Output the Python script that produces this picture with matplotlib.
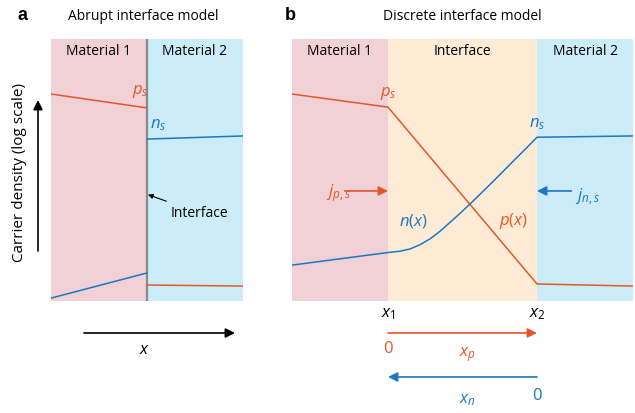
import matplotlib.pyplot as plt

plt.rcParams['font.family'] = 'Open Sans'
plt.rcParams['mathtext.fontset'] = 'custom'
plt.rcParams['mathtext.it'] = 'Open Sans:italic'
plt.rcParams['mathtext.rm'] = 'Open Sans'
plt.rcParams['mathtext.bf'] = 'Open Sans:bold'

ORANGE = '#e4572a'
BLUE = '#1b79c1'
PINK = '#f1d1d6'
SKY = '#cbecf8'
BEIGE = '#fdebd6'

# --- panel a: abrupt interface (x: material 1 = 0..1, material 2 = 1..2; y = log density)
a_bounds = [0, 1, 2]
a_p_m1_x = [0, 1]
a_p_m1_y = [7.90, 7.37]
a_p_m2_x = [1, 2]
a_p_m2_y = [0.61, 0.57]
a_n_m1_x = [0, 1]
a_n_m1_y = [0.11, 1.07]
a_n_m2_x = [1, 2]
a_n_m2_y = [6.18, 6.30]

# --- panel b: discrete interface (x1 = 0, x2 = 1)
b_bounds = [-0.644, 0, 1, 1.644]
b_p_x = [-0.644, 0, 1, 1.644]
b_p_y = [7.90, 7.40, 0.65, 0.57]
b_n_x = [-0.644, 0, 0.081, 0.148, 0.215, 0.282, 0.349, 0.416, 0.483, 0.550,
         0.617, 0.685, 0.752, 0.841, 0.931, 1.0, 1.644]
b_n_y = [1.37, 1.85, 1.90, 1.985, 2.15, 2.37, 2.66, 3.00, 3.34, 3.70,
         4.07, 4.45, 4.83, 5.34, 5.85, 6.25, 6.30]
b_region_names = ['Material 1', 'Interface', 'Material 2']

YMAX = 10.0
W, H = 635, 414

fig = plt.figure(figsize=(W / 100, H / 100), dpi=100)


def add_panel(left_px, right_px, xlim):
    ax = fig.add_axes([left_px / W, (H - 302) / H, (right_px - left_px) / W, 262 / H])
    ax.set_xlim(*xlim)
    ax.set_ylim(0, YMAX)
    ax.axis('off')
    return ax


lw = 1.1
fs = 10

# panel a
ax_a = add_panel(51, 243, (a_bounds[0], a_bounds[-1]))
ax_a.axvspan(a_bounds[0], a_bounds[1], color=PINK, lw=0)
ax_a.axvspan(a_bounds[1], a_bounds[2], color=SKY, lw=0)
ax_a.axvline(a_bounds[1], color='#8a8a8a', lw=1.6)
ax_a.plot(a_p_m1_x, a_p_m1_y, color=ORANGE, lw=lw)
ax_a.plot(a_p_m2_x, a_p_m2_y, color=ORANGE, lw=lw)
ax_a.plot(a_n_m1_x, a_n_m1_y, color=BLUE, lw=lw)
ax_a.plot(a_n_m2_x, a_n_m2_y, color=BLUE, lw=lw)
ax_a.text(0.5, 9.55, 'Material 1', ha='center', va='center', fontsize=fs)
ax_a.text(1.5, 9.55, 'Material 2', ha='center', va='center', fontsize=fs)
ax_a.text(0.93, 8.05, r'$p_s$', color=ORANGE, ha='center', va='center', fontsize=12)
ax_a.text(1.12, 6.75, r'$n_s$', color=BLUE, ha='center', va='center', fontsize=12)
ax_a.annotate('Interface', xy=(1.01, 4.06), xytext=(1.25, 3.38), fontsize=fs,
              ha='left', va='center',
              arrowprops=dict(arrowstyle='-|>', color='black', lw=0.8,
                              mutation_scale=7, shrinkA=2, shrinkB=0,
                              relpos=(0.1, 1.0)))

# panel b
ax_b = add_panel(292, 633, (b_bounds[0], b_bounds[-1]))
for (x0, x1), c in zip(zip(b_bounds[:-1], b_bounds[1:]), [PINK, BEIGE, SKY]):
    ax_b.axvspan(x0, x1, color=c, lw=0)
for (x0, x1), name in zip(zip(b_bounds[:-1], b_bounds[1:]), b_region_names):
    ax_b.text((x0 + x1) / 2, 9.55, name, ha='center', va='center', fontsize=fs)
ax_b.plot(b_p_x, b_p_y, color=ORANGE, lw=lw)
ax_b.plot(b_n_x, b_n_y, color=BLUE, lw=lw, solid_joinstyle='round')
ax_b.text(0.0, 7.95, r'$p_s$', color=ORANGE, ha='center', va='center', fontsize=12)
ax_b.text(1.0, 6.8, r'$n_s$', color=BLUE, ha='center', va='center', fontsize=12)
ax_b.text(0.17, 3.1, r'$n(x)$', color=BLUE, ha='center', va='center', fontsize=12)
ax_b.text(0.845, 3.1, r'$p(x)$', color=ORANGE, ha='center', va='center', fontsize=12)
ax_b.text(-0.33, 4.15, r'$j_{p,s}$', color=ORANGE, ha='center', va='center', fontsize=12)
ax_b.text(1.34, 4.0, r'$j_{n,s}$', color=BLUE, ha='center', va='center', fontsize=12)
arrow_kw = dict(arrowstyle='-|>', lw=1.2, mutation_scale=14, shrinkA=0, shrinkB=0)
ax_b.annotate('', xy=(0, 4.2), xytext=(-0.29, 4.2),
              arrowprops=dict(color=ORANGE, **arrow_kw))
ax_b.annotate('', xy=(1.0, 4.2), xytext=(1.23, 4.2),
              arrowprops=dict(color=BLUE, **arrow_kw))

# coordinates under panel b
ax_b.text(0, -0.45, r'$x_1$', ha='center', va='center', fontsize=12, clip_on=False)
ax_b.text(1, -0.45, r'$x_2$', ha='center', va='center', fontsize=12, clip_on=False)
ax_b.annotate('', xy=(1, -1.22), xytext=(0, -1.22), annotation_clip=False,
              arrowprops=dict(color=ORANGE, **arrow_kw))
ax_b.text(0, -1.8, '0', color=ORANGE, ha='center', va='center', fontsize=12, clip_on=False)
ax_b.text(0.53, -2.0, r'$x_p$', color=ORANGE, ha='center', va='center', fontsize=12, clip_on=False)
ax_b.annotate('', xy=(0, -2.9), xytext=(1, -2.9), annotation_clip=False,
              arrowprops=dict(color=BLUE, **arrow_kw))
ax_b.text(1, -3.6, '0', color=BLUE, ha='center', va='center', fontsize=12, clip_on=False)
ax_b.text(0.53, -3.75, r'$x_n$', color=BLUE, ha='center', va='center', fontsize=12, clip_on=False)

# overlay for panel letters, titles and the axis arrows of panel a
ov = fig.add_axes([0, 0, 1, 1], facecolor='none')
ov.set_xlim(0, W)
ov.set_ylim(H, 0)
ov.axis('off')
ov.text(23, 16, 'a', fontsize=13, fontweight='bold', family='Liberation Sans', ha='center', va='center')
ov.text(290, 16, 'b', fontsize=13, fontweight='bold', family='Liberation Sans', ha='center', va='center')
ov.text(143, 17, 'Abrupt interface model', fontsize=fs, ha='center', va='center')
ov.text(462, 17, 'Discrete interface model', fontsize=fs, ha='center', va='center')
ov.annotate('', xy=(38, 101), xytext=(38, 252),
            arrowprops=dict(color='black', **arrow_kw))
ov.text(20, 172, 'Carrier density (log scale)', rotation=90, fontsize=11, ha='center', va='center')
ov.annotate('', xy=(235, 334), xytext=(84, 334),
            arrowprops=dict(color='black', **arrow_kw))
ov.text(145, 350, r'$x$', fontsize=12, ha='center', va='center')

fig.savefig('out.png', dpi=100)
